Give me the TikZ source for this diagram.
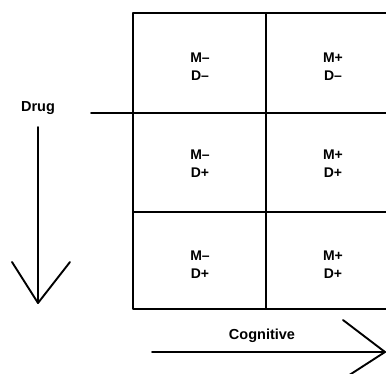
\documentclass[tikz,border=0pt]{standalone}
\usepackage{fontspec}
\setmainfont{Liberation Sans}
\begin{document}
\begin{tikzpicture}[x=1pt,y=-1pt,
  rule/.style={line width=1.9pt, line cap=round, line join=round},
  lbl/.style={font=\fontsize{14.5}{14.5}\selectfont\bfseries, inner sep=0pt, align=center},
  celltext/.style={lbl, font=\fontsize{14}{18}\selectfont\bfseries}]
\useasboundingbox (0,0) rectangle (386,373);

% grid of six cells, running off the right edge
\draw[rule] (386,13) -- (133,13) -- (133,309) -- (386,309);
\draw[rule] (266,13) -- (266,309);
\draw[rule] (91,113) -- (386,113);
\draw[rule] (133,212) -- (386,212);

% cell labels
\node[celltext] (c11) at (200,67) {M–\\D–};
\node[celltext] (c12) at (333,67) {M+\\D–};
\node[celltext] (c21) at (200,164) {M–\\D+};
\node[celltext] (c22) at (333,164) {M+\\D+};
\node[celltext] (c31) at (200,265) {M–\\D+};
\node[celltext] (c32) at (333,265) {M+\\D+};

% drug axis
\node[lbl] (drug) at (38,108) {Drug};
\coordinate (dtop) at (38,127);
\coordinate (dtip) at (38,303);
\coordinate (dl) at (12,262);
\coordinate (dr) at (70,262);
\draw[rule] (dtop) -- (dtip);
\draw[rule] (dl) -- (dtip) -- (dr);

% cognitive axis
\node[lbl] (cog) at (262,336) {Cognitive};
\coordinate (cstart) at (152,352);
\coordinate (ctip) at (385,352);
\coordinate (cu) at (343,320);
\coordinate (cd) at (337,383);
\draw[rule] (cstart) -- (ctip);
\draw[rule] (cu) -- (ctip) -- (cd);
\end{tikzpicture}
\end{document}
